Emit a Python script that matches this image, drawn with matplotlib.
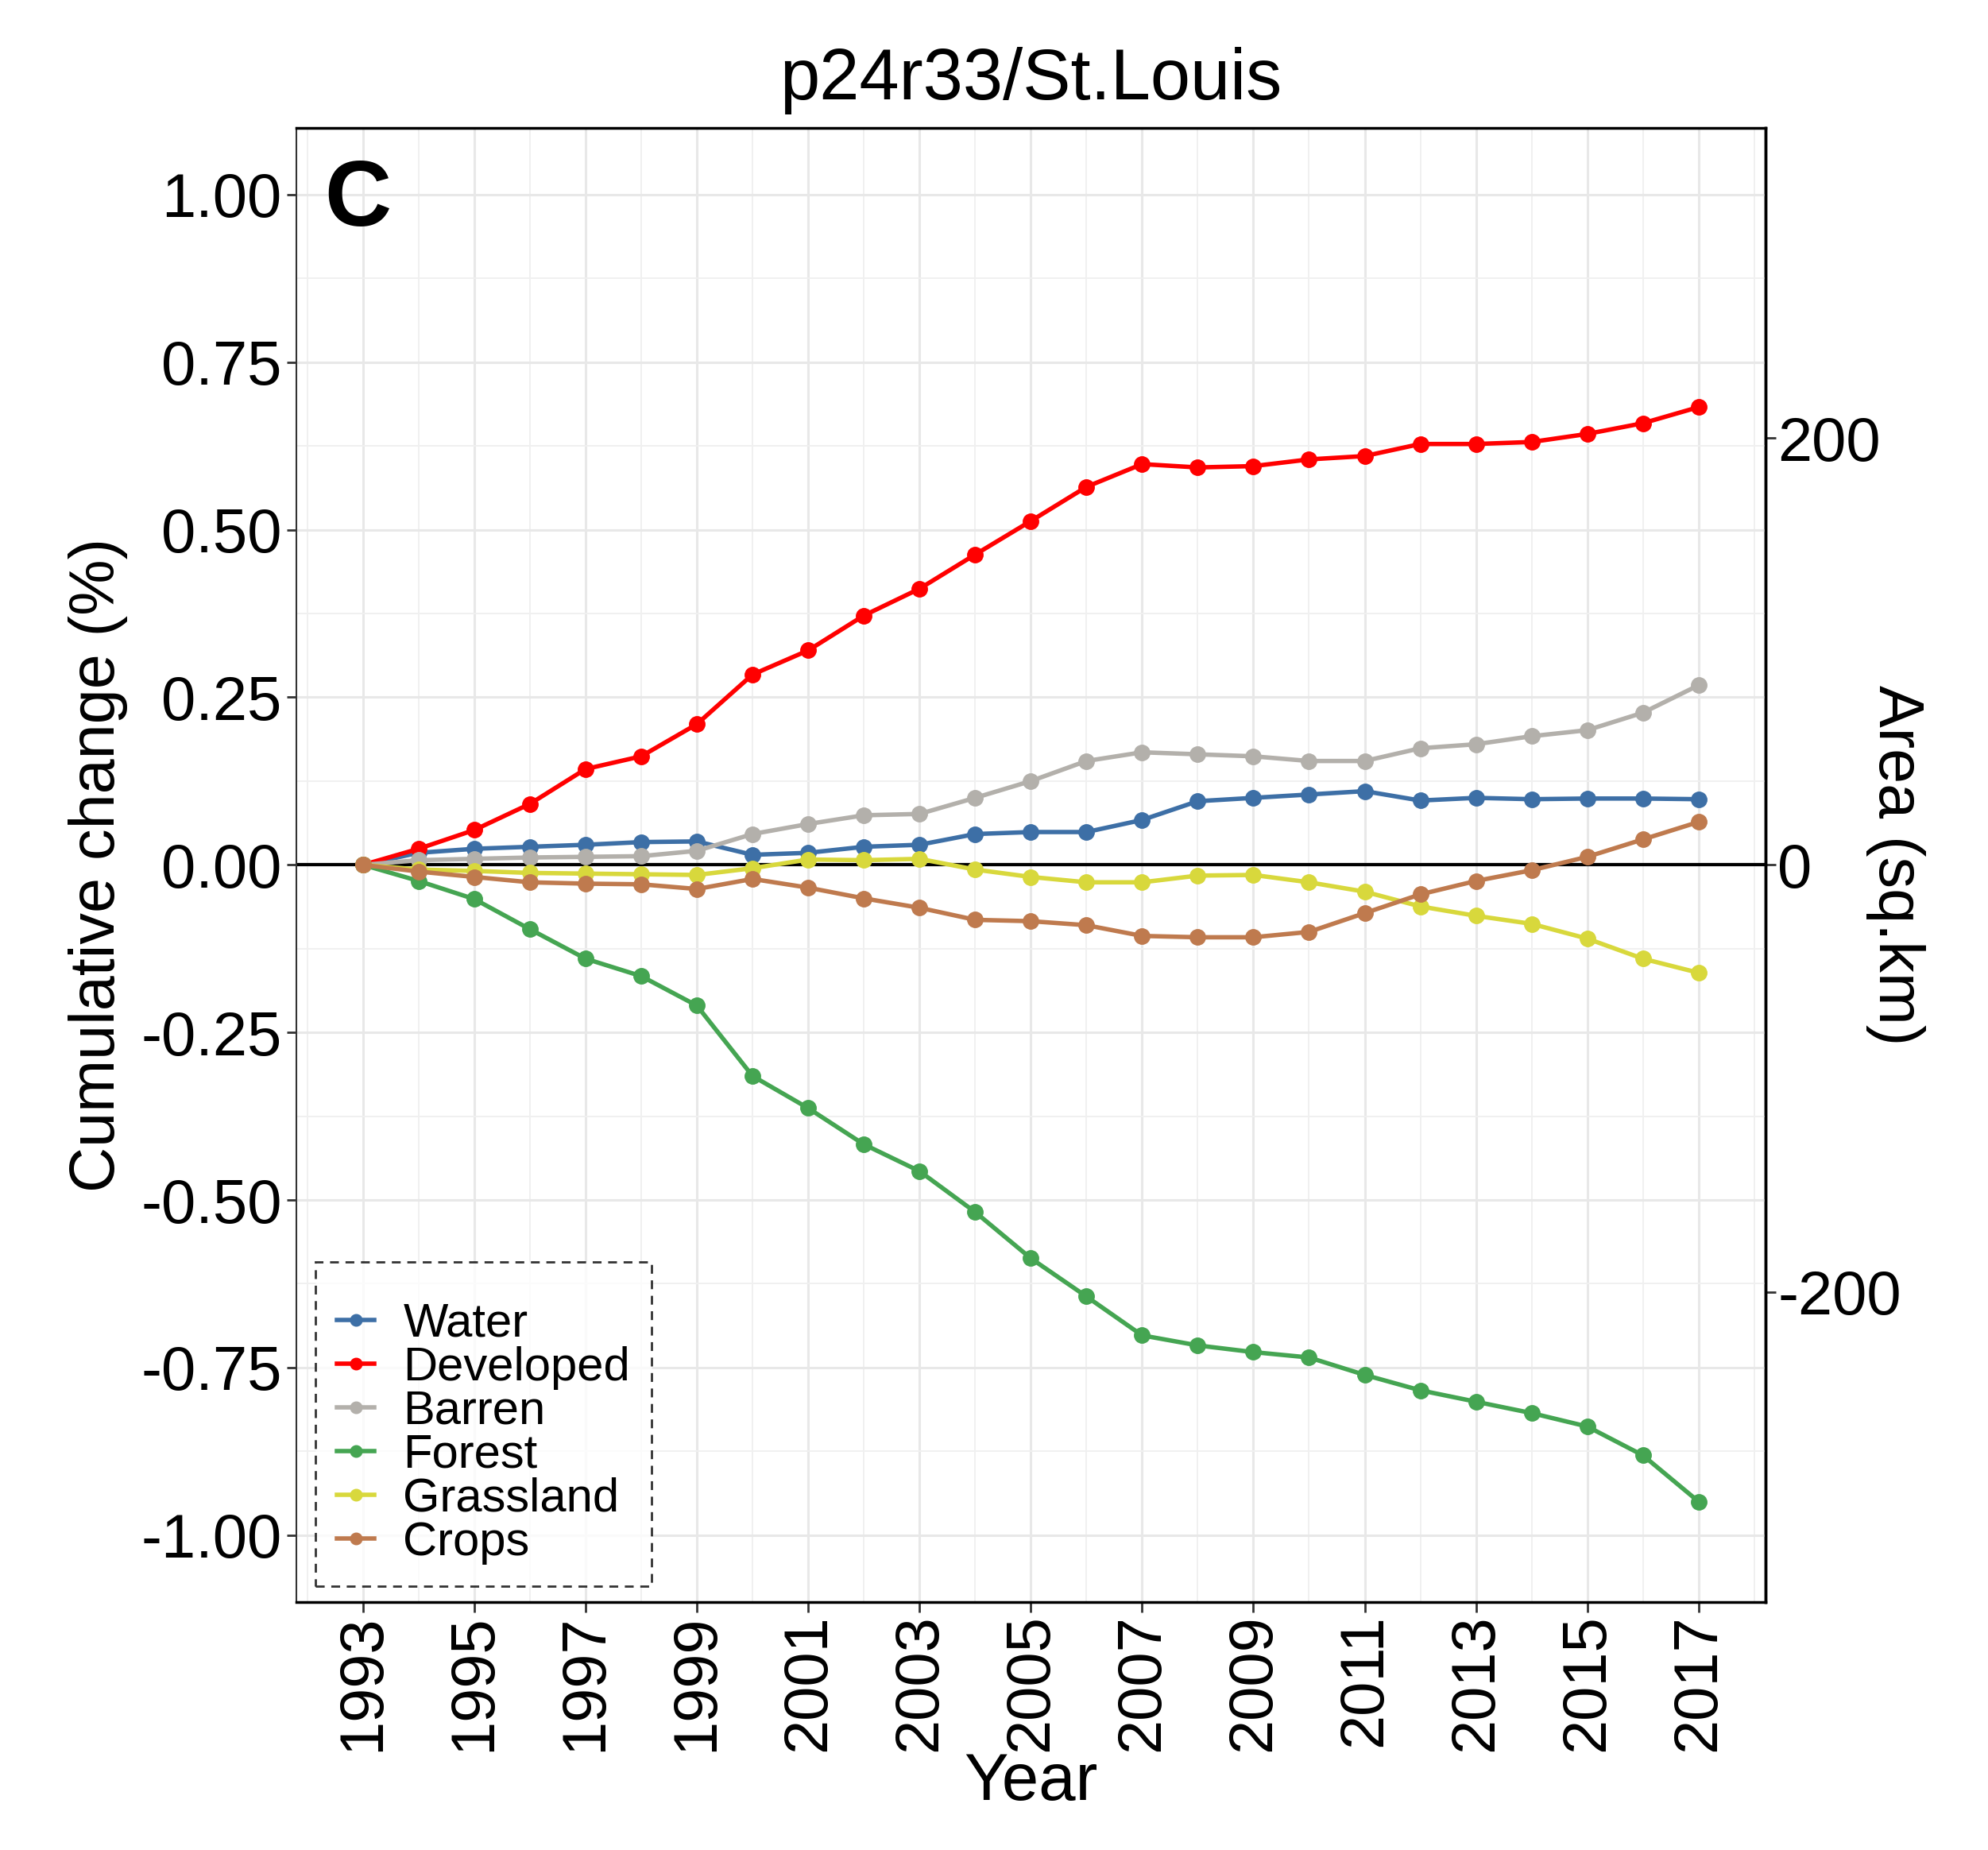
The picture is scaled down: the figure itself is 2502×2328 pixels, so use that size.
import numpy as np
import matplotlib
matplotlib.use("Agg")
from matplotlib import pyplot as plt
from matplotlib.ticker import MultipleLocator, FixedFormatter

plt.rcParams['font.family'] = ['Liberation Sans', 'DejaVu Sans']
plt.rcParams['axes.unicode_minus'] = False

years = list(range(1993, 2018))

# cumulative change (%)
water = [0, 0.018, 0.024, 0.027, 0.030, 0.034, 0.035, 0.015, 0.018, 0.027, 0.030,
         0.046, 0.049, 0.049, 0.067, 0.095, 0.100, 0.105, 0.110, 0.096, 0.100,
         0.098, 0.099, 0.099, 0.098]
developed = [0, 0.024, 0.052, 0.091, 0.143, 0.162, 0.210, 0.284, 0.320, 0.372, 0.412,
             0.463, 0.513, 0.564, 0.598, 0.593, 0.595, 0.605, 0.610, 0.628, 0.628,
             0.631, 0.643, 0.659, 0.683]
barren = [0, 0.007, 0.009, 0.011, 0.012, 0.013, 0.021, 0.046, 0.061, 0.074, 0.076,
          0.100, 0.125, 0.155, 0.168, 0.165, 0.162, 0.155, 0.155, 0.174, 0.180,
          0.192, 0.201, 0.227, 0.268]
forest = [0, -0.024, -0.051, -0.096, -0.140, -0.166, -0.210, -0.315, -0.363, -0.417,
          -0.457, -0.518, -0.587, -0.644, -0.702, -0.717, -0.727, -0.735, -0.761,
          -0.784, -0.801, -0.818, -0.838, -0.881, -0.950]
grassland = [0, -0.007, -0.009, -0.012, -0.013, -0.014, -0.015, -0.005, 0.008, 0.007,
             0.009, -0.007, -0.018, -0.026, -0.026, -0.016, -0.015, -0.026, -0.040,
             -0.062, -0.076, -0.088, -0.110, -0.140, -0.161]
crops = [0, -0.010, -0.018, -0.026, -0.028, -0.029, -0.036, -0.021, -0.034, -0.050,
         -0.064, -0.082, -0.084, -0.090, -0.106, -0.108, -0.108, -0.100, -0.072,
         -0.044, -0.024, -0.008, 0.012, 0.038, 0.064]

names = ['Water', 'Developed', 'Barren', 'Forest', 'Grassland', 'Crops']
colors = ['#3d6fa6', '#ff0000', '#b3b0ab', '#45a552', '#d8d83c', '#bf7a4e']
series = [water, developed, barren, forest, grassland, crops]

# percent -> sq.km conversion for the right axis
area_factor = 314.0

fig = plt.figure(figsize=(25.02, 23.28), dpi=100)
ax = fig.add_axes([0.149, 0.134, 0.739, 0.797])

for name, col, vals in zip(names, colors, series):
    ax.plot(years, vals, color=col, lw=4, marker='o', ms=14,
            mec=col, label=name, zorder=3)

ax.axhline(0, color='black', lw=3, zorder=2)

ax.set_xlim(1991.8, 2018.2)
ax.set_ylim(-1.1, 1.1)
ax.set_xticks(list(range(1993, 2018, 2)))
ax.set_xticklabels([str(y) for y in range(1993, 2018, 2)], rotation=90)
ax.xaxis.set_minor_locator(MultipleLocator(1))
ax.set_yticks([-1, -0.75, -0.5, -0.25, 0, 0.25, 0.5, 0.75, 1.0])
ax.set_yticklabels(['-1.00', '-0.75', '-0.50', '-0.25', '0.00', '0.25', '0.50', '0.75', '1.00'])
ax.yaxis.set_minor_locator(MultipleLocator(0.125))

ax.grid(which='major', color='#e8e8e8', lw=2.2, zorder=0)
ax.grid(which='minor', color='#f0f0f0', lw=1.4, zorder=0)
ax.set_axisbelow(True)

ax.tick_params(axis='both', which='major', labelsize=56, length=9, width=2,
               color='#333333', pad=4)
ax.tick_params(axis='x', which='major', pad=2)
ax.tick_params(axis='both', which='minor', length=0)

for s in ax.spines.values():
    s.set_color('black')
    s.set_linewidth(2.5)
ax.spines['left'].set_linewidth(1.5)
ax.spines['left'].set_color('#333333')

ax.set_xlabel('Year', fontsize=60, labelpad=0)
ax.set_ylabel('Cumulative change (%)', fontsize=57, labelpad=12)
ax.set_title('p24r33/St.Louis', fontsize=65, pad=26)

ax.text(0.042, 0.95, 'C', transform=ax.transAxes, fontsize=84,
        fontweight='bold', ha='center', va='center')

sec = ax.secondary_yaxis('right', functions=(lambda p: p * area_factor,
                                             lambda a: a / area_factor))
sec.set_yticks([-200, 0, 200])
sec.set_yticklabels(['-200', '0', '200'])
sec.tick_params(labelsize=56, length=9, width=2, color='#333333', pad=2)
sec.set_ylabel('Area (sq.km)', fontsize=57, rotation=-90, labelpad=22)
sec.spines['right'].set_linewidth(2.5)

leg = ax.legend(loc='lower left', bbox_to_anchor=(0.013, 0.011), fontsize=43,
                title=' ', title_fontsize=18, handlelength=0.8, handletextpad=0.6,
                labelspacing=0.0, borderpad=0.45, frameon=True, fancybox=False,
                markerscale=0.75, borderaxespad=0)
frame = leg.get_frame()
frame.set_edgecolor('black')
frame.set_linestyle((0, (4, 3)))
frame.set_linewidth(2)

fig.savefig('out.png', dpi=100, facecolor='white')
